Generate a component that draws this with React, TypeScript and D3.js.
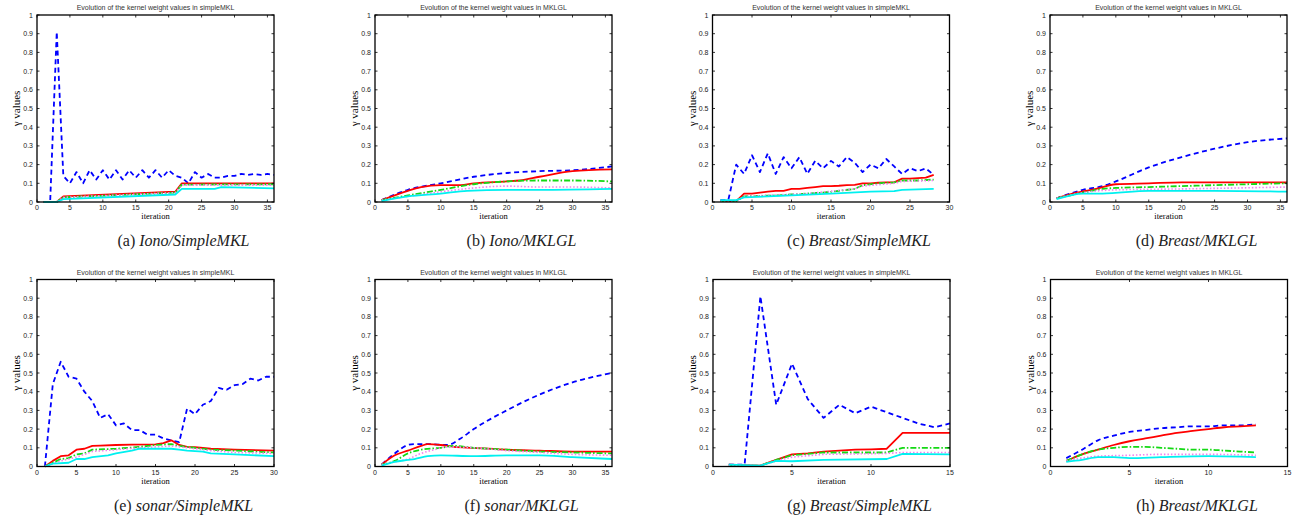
import React from "react";
import * as d3 from "d3";

type Pt = [number, number];

// ---------- data (iteration, gamma) ----------
// (a) Iono / SimpleMKL
const aBlue: Pt[] = [[1,0],[2,0],[3,0.91],[4,0.14],[5,0.10],[6,0.16],[7,0.10],[8,0.17],[9,0.12],[10,0.17],[11,0.12],[12,0.17],[13,0.12],[14,0.17],[15,0.13],[16,0.17],[17,0.13],[18,0.17],[19,0.13],[20,0.17],[21,0.14],[22,0.13],[23,0.10],[24,0.16],[25,0.13],[26,0.15],[27,0.13],[28,0.13],[29,0.14],[30,0.14],[31,0.15],[32,0.145],[33,0.15],[34,0.145],[35,0.15],[36,0.145]];
const aRed: Pt[] = [[1,0],[3,0],[4,0.03],[21,0.055],[22,0.10],[36,0.10]];
const aGreen: Pt[] = [[1,0],[3,0],[4,0.025],[21,0.05],[22,0.093],[36,0.095]];
const aMagenta: Pt[] = [[1,0],[3,0],[4,0.025],[21,0.05],[22,0.09],[36,0.09]];
const aCyan: Pt[] = [[1,0],[3,0],[4,0.015],[21,0.04],[22,0.07],[27,0.07],[28,0.08],[36,0.073]];

// (b) Iono / MKLGL
const bBlue: Pt[] = [[1,0.01],[5,0.065],[10,0.10],[15,0.135],[20,0.155],[25,0.165],[30,0.17],[36,0.19]];
const bRed: Pt[] = [[1,0.01],[5,0.06],[7,0.08],[10,0.09],[13,0.09],[15,0.10],[20,0.11],[22,0.115],[25,0.135],[30,0.165],[36,0.175]];
const bGreen: Pt[] = [[1,0.01],[5,0.035],[10,0.065],[15,0.095],[20,0.11],[25,0.115],[30,0.115],[36,0.11]];
const bMagenta: Pt[] = [[1,0.01],[5,0.03],[10,0.055],[15,0.075],[20,0.085],[25,0.08],[30,0.08],[36,0.075]];
const bCyan: Pt[] = [[1,0.005],[5,0.03],[10,0.045],[14,0.06],[20,0.065],[25,0.065],[36,0.07]];

// (c) Breast / SimpleMKL
const cBlue: Pt[] = [[1,0.01],[2,0.01],[3,0.20],[4,0.15],[5,0.25],[6,0.16],[7,0.26],[8,0.15],[9,0.24],[10,0.18],[11,0.24],[12,0.15],[13,0.22],[14,0.18],[15,0.22],[16,0.19],[17,0.24],[18,0.21],[19,0.16],[20,0.20],[21,0.18],[22,0.23],[23,0.19],[24,0.15],[25,0.18],[26,0.165],[27,0.18],[28,0.145]];
const cRed: Pt[] = [[1,0.005],[3,0.005],[4,0.045],[5,0.045],[6,0.05],[7,0.055],[8,0.06],[9,0.06],[10,0.07],[11,0.07],[12,0.075],[13,0.08],[14,0.085],[15,0.085],[16,0.087],[17,0.09],[18,0.092],[19,0.10],[20,0.10],[21,0.103],[22,0.105],[23,0.105],[24,0.125],[25,0.125],[26,0.128],[27,0.13],[28,0.145]];
const cGreen: Pt[] = [[1,0.005],[3,0.005],[4,0.03],[8,0.035],[10,0.04],[12,0.045],[14,0.05],[16,0.06],[18,0.07],[19,0.09],[21,0.10],[23,0.105],[24,0.115],[26,0.115],[28,0.12]];
const cMagenta: Pt[] = [[1,0.005],[3,0.005],[4,0.03],[12,0.045],[18,0.07],[19,0.085],[23,0.10],[24,0.11],[28,0.115]];
const cCyan: Pt[] = [[1,0.01],[3,0.01],[4,0.025],[10,0.035],[15,0.045],[20,0.055],[23,0.058],[24,0.065],[28,0.07]];

// (d) Breast / MKLGL
const dBlue: Pt[] = [[1,0.02],[5,0.065],[8,0.085],[10,0.11],[15,0.185],[20,0.24],[25,0.285],[30,0.32],[36,0.34]];
const dRed: Pt[] = [[1,0.02],[4,0.05],[7,0.07],[10,0.095],[15,0.10],[20,0.105],[36,0.105]];
const dGreen: Pt[] = [[1,0.02],[5,0.05],[8,0.07],[10,0.075],[15,0.08],[20,0.085],[30,0.095],[36,0.10]];
const dMagenta: Pt[] = [[1,0.02],[5,0.05],[10,0.065],[20,0.07],[36,0.08]];
const dCyan: Pt[] = [[1,0.015],[5,0.045],[8,0.045],[15,0.06],[25,0.06],[36,0.055]];

// (e) sonar / SimpleMKL
const eBlue: Pt[] = [[1,0],[2,0.44],[3,0.56],[4,0.48],[5,0.47],[6,0.40],[7,0.35],[8,0.26],[9,0.28],[10,0.22],[11,0.23],[12,0.195],[13,0.195],[14,0.17],[15,0.17],[16,0.15],[17,0.14],[18,0.13],[19,0.31],[20,0.28],[21,0.33],[22,0.35],[23,0.42],[24,0.41],[25,0.435],[26,0.44],[27,0.47],[28,0.46],[29,0.48],[30,0.48]];
const eRed: Pt[] = [[1,0],[2,0.03],[3,0.055],[4,0.06],[5,0.09],[6,0.095],[7,0.11],[8,0.112],[10,0.115],[12,0.117],[15,0.118],[16,0.125],[17,0.14],[18,0.115],[19,0.105],[20,0.103],[21,0.10],[22,0.095],[25,0.09],[30,0.085]];
const eGreen: Pt[] = [[1,0],[3,0.04],[4,0.045],[5,0.065],[6,0.07],[7,0.09],[10,0.095],[13,0.105],[15,0.115],[17,0.12],[18,0.11],[20,0.10],[22,0.09],[25,0.085],[30,0.075]];
const eMagenta: Pt[] = [[1,0],[3,0.03],[5,0.05],[7,0.08],[10,0.09],[13,0.10],[15,0.105],[17,0.11],[19,0.10],[22,0.085],[25,0.075],[30,0.07]];
const eCyan: Pt[] = [[1,0],[2,0.015],[4,0.02],[5,0.04],[6,0.04],[7,0.05],[9,0.06],[10,0.07],[12,0.085],[13,0.095],[17,0.095],[18,0.09],[19,0.085],[21,0.08],[22,0.07],[25,0.065],[30,0.055]];

// (f) sonar / MKLGL
const fBlue: Pt[] = [[1,0.01],[3,0.07],[5,0.115],[6,0.12],[8,0.12],[11,0.115],[13,0.15],[15,0.20],[20,0.30],[25,0.385],[30,0.45],[36,0.50]];
const fRed: Pt[] = [[1,0.01],[3,0.06],[5,0.085],[7,0.11],[8,0.12],[10,0.115],[12,0.105],[15,0.10],[20,0.09],[25,0.085],[30,0.08],[36,0.08]];
const fGreen: Pt[] = [[1,0.01],[3,0.03],[5,0.07],[7,0.09],[10,0.10],[12,0.11],[15,0.10],[20,0.09],[25,0.08],[30,0.075],[36,0.07]];
const fMagenta: Pt[] = [[1,0.01],[3,0.025],[5,0.04],[7,0.07],[9,0.09],[11,0.105],[15,0.10],[20,0.085],[25,0.075],[30,0.065],[36,0.06]];
const fCyan: Pt[] = [[1,0.005],[3,0.025],[5,0.035],[6,0.04],[8,0.055],[10,0.06],[15,0.055],[20,0.06],[25,0.06],[30,0.05],[36,0.04]];

// (g) Breast / SimpleMKL
const gBlue: Pt[] = [[1,0.01],[2,0.01],[3,0.91],[4,0.33],[5,0.55],[6,0.36],[7,0.26],[8,0.33],[9,0.285],[10,0.32],[11,0.29],[12,0.26],[13,0.23],[14,0.21],[15,0.23]];
const gRed: Pt[] = [[1,0.01],[3,0.005],[4,0.035],[5,0.065],[6,0.07],[7,0.08],[8,0.085],[9,0.09],[10,0.092],[11,0.095],[12,0.18],[15,0.18]];
const gGreen: Pt[] = [[1,0.005],[3,0.005],[4,0.035],[5,0.06],[7,0.075],[11,0.075],[12,0.10],[15,0.10]];
const gMagenta: Pt[] = [[1,0.005],[3,0.005],[4,0.03],[5,0.05],[7,0.065],[11,0.07],[12,0.075],[15,0.075]];
const gCyan: Pt[] = [[1,0.01],[3,0.005],[4,0.03],[5,0.028],[7,0.035],[11,0.04],[12,0.068],[15,0.065]];

// (h) Breast / MKLGL
const hBlue: Pt[] = [[1,0.045],[2,0.09],[3,0.14],[4,0.165],[5,0.185],[6,0.195],[7,0.205],[8,0.21],[9,0.215],[10,0.215],[11,0.22],[12,0.22],[13,0.225]];
const hRed: Pt[] = [[1,0.03],[2,0.065],[3,0.09],[4,0.115],[5,0.135],[6,0.15],[7,0.165],[8,0.18],[9,0.19],[10,0.20],[11,0.21],[12,0.215],[13,0.22]];
const hGreen: Pt[] = [[1,0.03],[2,0.065],[3,0.09],[4,0.10],[5,0.105],[6,0.105],[7,0.10],[8,0.095],[9,0.09],[10,0.09],[11,0.085],[12,0.08],[13,0.075]];
const hMagenta: Pt[] = [[1,0.03],[2,0.045],[3,0.055],[5,0.06],[7,0.065],[10,0.065],[13,0.06]];
const hCyan: Pt[] = [[1,0.025],[2,0.035],[3,0.05],[4,0.05],[5,0.045],[7,0.05],[10,0.055],[13,0.05]];

const yTicks = [0, 0.1, 0.2, 0.3, 0.4, 0.5, 0.6, 0.7, 0.8, 0.9, 1];
const yTickLabels = ["0", "0.1", "0.2", "0.3", "0.4", "0.5", "0.6", "0.7", "0.8", "0.9", "1"];
const panelLetters = ["a", "b", "c", "d", "e", "f", "g", "h"];
const datasetNames = ["Iono", "Iono", "Breast", "Breast", "sonar", "sonar", "Breast", "Breast"];
const methodNames = ["SimpleMKL", "MKLGL", "SimpleMKL", "MKLGL", "SimpleMKL", "MKLGL", "SimpleMKL", "MKLGL"];
const titles = [
  "Evolution of the kernel weight values in simpleMKL",
  "Evolution of the kernel weight values in MKLGL",
];
const xMaxes = [36, 36, 30, 36, 30, 36, 15, 15];
const smoothFlags = [false, true, false, true, false, true, false, true];
const panelSeries: Pt[][][] = [
  [aBlue, aRed, aGreen, aMagenta, aCyan],
  [bBlue, bRed, bGreen, bMagenta, bCyan],
  [cBlue, cRed, cGreen, cMagenta, cCyan],
  [dBlue, dRed, dGreen, dMagenta, dCyan],
  [eBlue, eRed, eGreen, eMagenta, eCyan],
  [fBlue, fRed, fGreen, fMagenta, fCyan],
  [gBlue, gRed, gGreen, gMagenta, gCyan],
  [hBlue, hRed, hGreen, hMagenta, hCyan],
];

// ---------- styles ----------
const seriesStyles = [
  { color: "#0000ff", dash: "5,3.5", width: 1.8 },
  { color: "#ff0000", dash: "", width: 1.8 },
  { color: "#14d914", dash: "6,2,1.5,2", width: 1.8 },
  { color: "#f080f0", dash: "1.5,2", width: 1.6 },
  { color: "#00f0f0", dash: "", width: 1.8 },
];
const panelLefts = [37, 375, 712.5, 1050, 37, 375, 713, 1050.5];
const rowTops = [15, 279.5];
const plotW = 237;
const plotH = 187;
const sans = "'Liberation Sans', Arial, Helvetica, sans-serif";
const serif = "'Liberation Serif', 'Times New Roman', Times, serif";

function Panel({ i }: { i: number }) {
  const left = panelLefts[i];
  const top = rowTops[i < 4 ? 0 : 1];
  const xMax = xMaxes[i];
  const x = d3.scaleLinear().domain([0, xMax]).range([left, left + plotW]);
  const y = d3.scaleLinear().domain([0, 1]).range([top + plotH, top]);
  const xTicks = d3.range(0, xMax + 0.001, 5);
  const line = d3
    .line<Pt>()
    .x((d) => x(d[0]))
    .y((d) => y(d[1]))
    .curve(smoothFlags[i] ? d3.curveMonotoneX : d3.curveLinear);
  const cx = left + plotW / 2;
  const tl = 2.5;
  return (
    <g>
      <text x={cx} y={top - 5} textAnchor="middle" fontFamily={sans} fontSize={7} fill="#333">
        {titles[i % 2]}
      </text>
      {panelSeries[i].map((s, k) => (
        <path
          key={k}
          d={line(s) || ""}
          fill="none"
          stroke={seriesStyles[k].color}
          strokeWidth={seriesStyles[k].width}
          strokeDasharray={seriesStyles[k].dash || undefined}
          strokeLinejoin="round"
        />
      ))}
      <rect x={left} y={top} width={plotW} height={plotH} fill="none" stroke="#000" strokeWidth={1.3} />
      {yTicks.map((t, k) => (
        <g key={"y" + k}>
          <line x1={left} x2={left + tl} y1={y(t)} y2={y(t)} stroke="#000" strokeWidth={0.8} />
          <line x1={left + plotW} x2={left + plotW - tl} y1={y(t)} y2={y(t)} stroke="#000" strokeWidth={0.8} />
          <text x={left - 4} y={y(t) + 2.5} textAnchor="end" fontFamily={sans} fontSize={7} fill="#222">
            {yTickLabels[k]}
          </text>
        </g>
      ))}
      {xTicks.map((t, k) => (
        <g key={"x" + k}>
          <line x1={x(t)} x2={x(t)} y1={top + plotH} y2={top + plotH - tl} stroke="#000" strokeWidth={0.8} />
          <line x1={x(t)} x2={x(t)} y1={top} y2={top + tl} stroke="#000" strokeWidth={0.8} />
          <text x={x(t)} y={top + plotH + 8} textAnchor="middle" fontFamily={sans} fontSize={7} fill="#222">
            {String(t)}
          </text>
        </g>
      ))}
      <text
        transform={`translate(${left - 17},${top + plotH / 2}) rotate(-90)`}
        textAnchor="middle"
        fontFamily={serif}
        fontSize={11}
        fill="#000"
      >
        γ values
      </text>
      <text x={cx} y={top + plotH + 17} textAnchor="middle" fontFamily={serif} fontSize={8.5} fill="#000">
        iteration
      </text>
      <text x={cx + 28} y={top + plotH + 44} textAnchor="middle" fontFamily={serif} fontSize={16} fill="#222">
        {`(${panelLetters[i]}) `}
        <tspan fontStyle="italic">{`${datasetNames[i]}/${methodNames[i]}`}</tspan>
      </text>
    </g>
  );
}

export default function App() {
  return (
    <svg
      width={1299}
      height={529}
      style={{ position: "absolute", left: 0, top: 0, background: "#fff" }}
    >
      <rect x={0} y={0} width={1299} height={529} fill="#fff" />
      {d3.range(8).map((i) => (
        <Panel key={i} i={i} />
      ))}
    </svg>
  );
}
